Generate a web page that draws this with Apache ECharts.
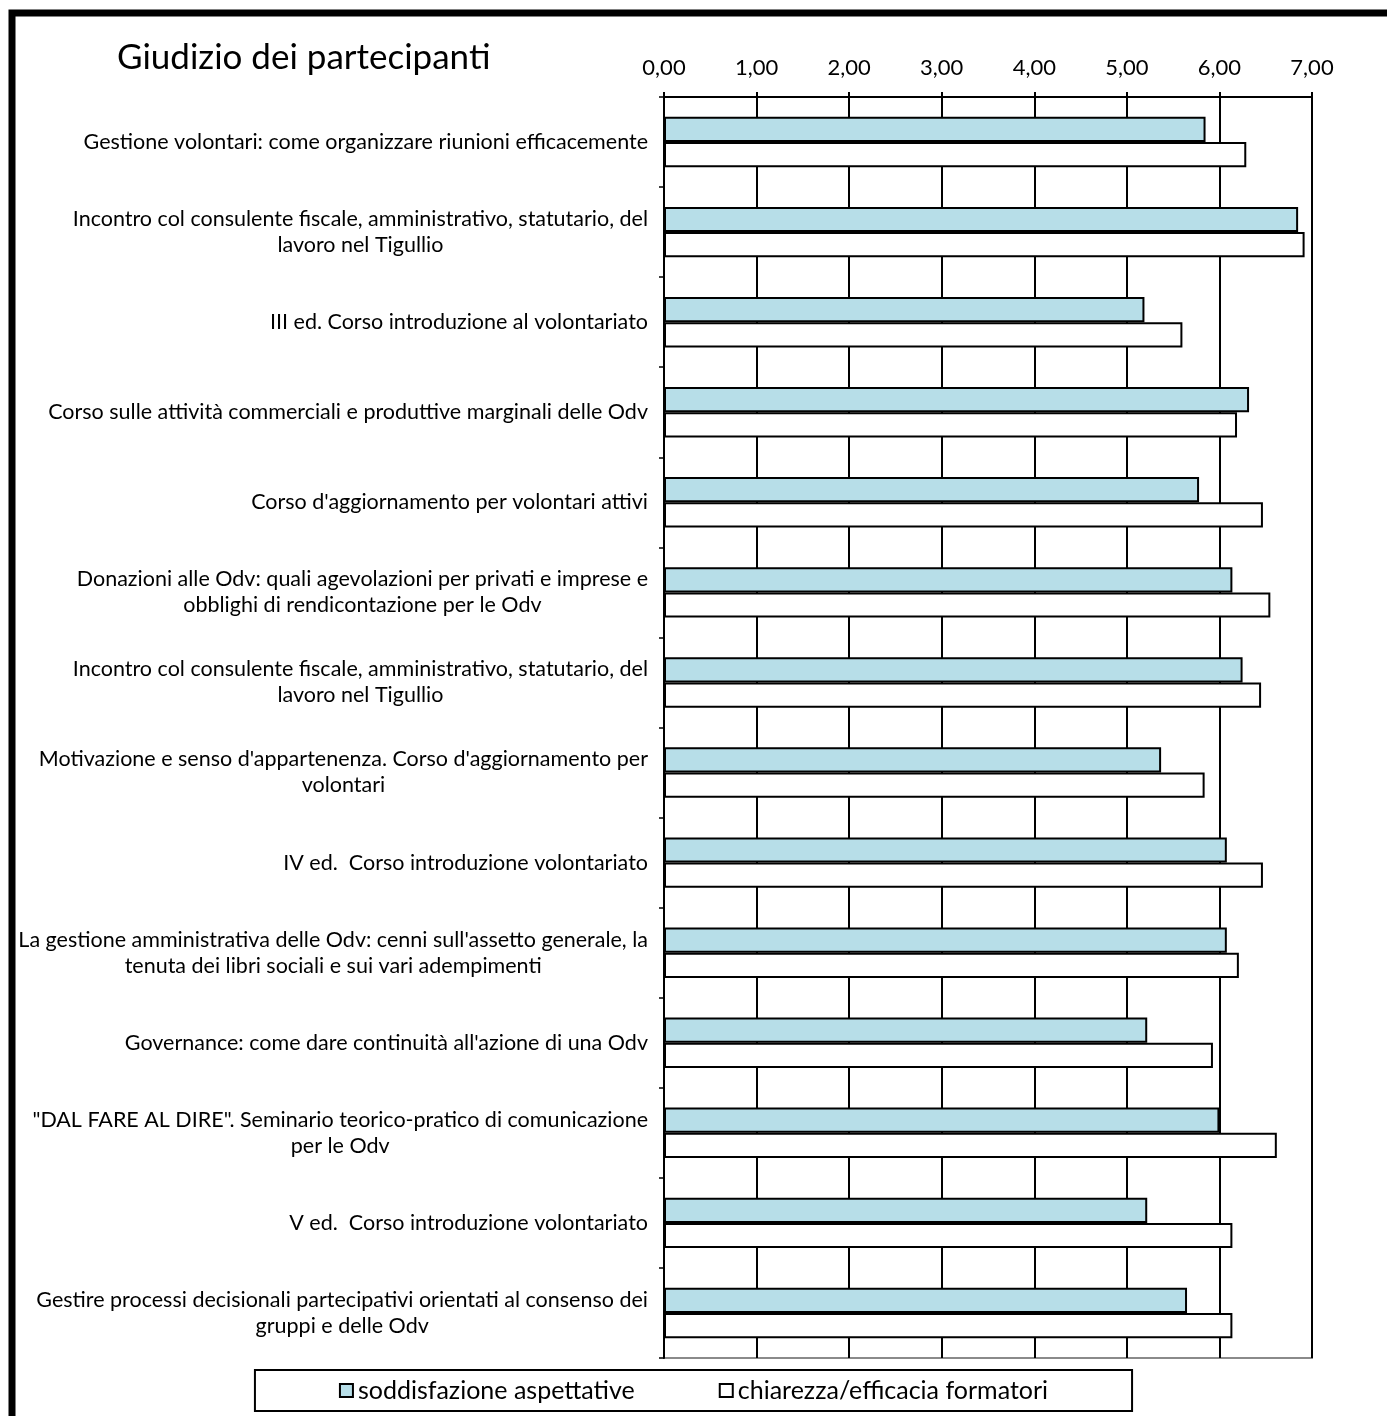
<!DOCTYPE html>
<html>
<head>
<meta charset="utf-8">
<script src="https://cdn.jsdelivr.net/npm/echarts@6/dist/echarts.min.js"></script>
<style>
html,body{margin:0;padding:0;background:#fff;}
#chart{width:1387px;height:1416px;}
</style>
</head>
<body>
<div id="chart"></div>
<script>
const titleText = 'Giudizio dei partecipanti';
const categories = [
  'Gestione volontari: come organizzare riunioni efficacemente',
  'Incontro col consulente fiscale, amministrativo, statutario, del\nlavoro nel Tigullio',
  'III ed. Corso introduzione al volontariato',
  'Corso sulle attività commerciali e produttive marginali delle Odv',
  "Corso d'aggiornamento per volontari attivi",
  'Donazioni alle Odv: quali agevolazioni per privati e imprese e\nobblighi di rendicontazione per le Odv',
  'Incontro col consulente fiscale, amministrativo, statutario, del\nlavoro nel Tigullio',
  "Motivazione e senso d'appartenenza. Corso d'aggiornamento per\nvolontari",
  'IV ed.  Corso introduzione volontariato',
  "La gestione amministrativa delle Odv: cenni sull'assetto generale, la\ntenuta dei libri sociali e sui vari adempimenti",
  "Governance: come dare continuità all'azione di una Odv",
  '"DAL FARE AL DIRE". Seminario teorico-pratico di comunicazione\nper le Odv',
  'V ed.  Corso introduzione volontariato',
  'Gestire processi decisionali partecipativi orientati al consenso dei\ngruppi e delle Odv'
];
const seriesNames = ['soddisfazione aspettative', 'chiarezza/efficacia formatori'];
const soddisfazione = [5.85, 6.85, 5.19, 6.32, 5.78, 6.14, 6.25, 5.37, 6.08, 6.08, 5.22, 6.00, 5.22, 5.65];
const chiarezza = [6.29, 6.92, 5.60, 6.19, 6.47, 6.55, 6.45, 5.84, 6.47, 6.21, 5.93, 6.62, 6.14, 6.14];
const xTickLabels = ['0,00', '1,00', '2,00', '3,00', '4,00', '5,00', '6,00', '7,00'];

const FONT = 'Lato';
const chart = echarts.init(document.getElementById('chart'), null, {renderer: 'canvas'});
chart.setOption({
  animation: false,
  backgroundColor: '#ffffff',
  title: {
    text: titleText,
    left: 112,
    top: 35,
    textStyle: {fontFamily: FONT, fontSize: 35, fontWeight: 'normal', color: '#000'}
  },
  graphic: [{
    type: 'rect',
    shape: {x: 12, y: 13, width: 1400, height: 1430},
    style: {fill: 'none', stroke: '#000', lineWidth: 7},
    z: 100
  }],
  legend: {
    data: seriesNames,
    left: 'center',
    top: 1370,
    padding: [8, 84],
    itemGap: 84,
    itemWidth: 13,
    itemHeight: 13,
    icon: 'rect',
    borderColor: '#000',
    borderWidth: 2,
    borderRadius: 0,
    backgroundColor: '#fff',
    textStyle: {fontFamily: FONT, fontSize: 25, color: '#000'}
  },
  grid: {
    left: 664, right: 75, top: 97, bottom: 58,
    show: true, borderColor: '#8a8a8a', borderWidth: 2, backgroundColor: 'transparent'
  },
  xAxis: {
    type: 'value',
    position: 'top',
    min: 0, max: 7, interval: 1,
    axisLine: {show: true, lineStyle: {color: '#000', width: 2}},
    axisTick: {show: true, inside: false, length: 5, lineStyle: {color: '#000', width: 2}},
    splitLine: {show: true, lineStyle: {color: '#000', width: 2}},
    axisLabel: {
      margin: 18,
      fontFamily: FONT, fontSize: 22, color: '#000',
      formatter: function (v) { return xTickLabels[Math.round(v)]; }
    }
  },
  yAxis: {
    type: 'category',
    data: categories,
    inverse: true,
    axisLine: {show: true, lineStyle: {color: '#000', width: 2}},
    axisTick: {show: true, inside: false, length: 5, lineStyle: {color: '#000', width: 1.5}},
    splitLine: {show: false},
    axisLabel: {
      margin: 16,
      fontFamily: FONT, fontSize: 21.5, color: '#000',
      lineHeight: 26, align: 'right', interval: 0,
      formatter: function (v) {
        return v.split('\n').map(function (l) { return '{c|' + l + '}'; }).join('\n');
      },
      rich: {
        c: {fontFamily: FONT, fontSize: 21.5, color: '#000', lineHeight: 26, align: 'center'}
      }
    }
  },
  series: [
    {
      name: seriesNames[0], type: 'bar', data: soddisfazione,
      barGap: '0%', barCategoryGap: '44%',
      itemStyle: {color: '#b7dee8', borderColor: '#000', borderWidth: 2}
    },
    {
      name: seriesNames[1], type: 'bar', data: chiarezza,
      barGap: '0%', barCategoryGap: '44%',
      itemStyle: {color: '#ffffff', borderColor: '#000', borderWidth: 2}
    }
  ]
});
</script>
</body>
</html>
